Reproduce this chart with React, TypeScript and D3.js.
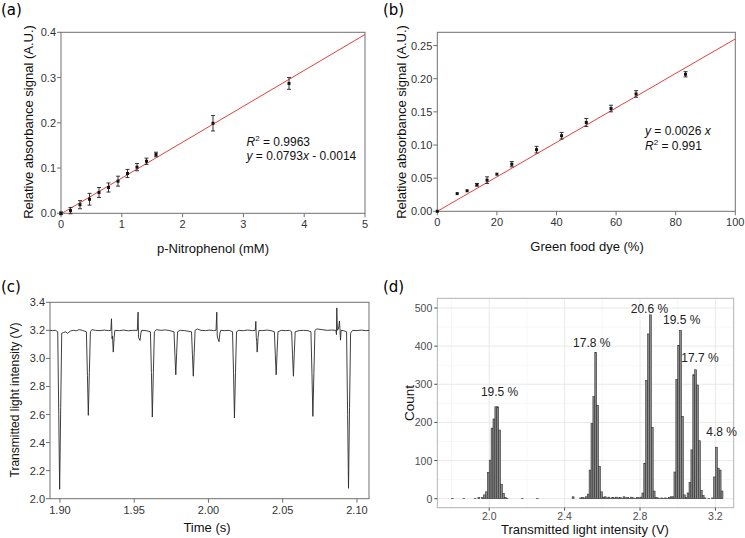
import React from "react";
import * as d3 from "d3";

// ---------- Panel (a): p-Nitrophenol calibration ----------
const aConc = [0, 0.156, 0.3125, 0.469, 0.625, 0.781, 0.9375, 1.094, 1.25, 1.406, 1.5625, 2.5, 3.75];
const aSignal = [0.0, 0.006, 0.019, 0.031, 0.046, 0.057, 0.071, 0.088, 0.102, 0.115, 0.13, 0.199, 0.287];
const aError = [0.003, 0.007, 0.009, 0.013, 0.011, 0.01, 0.011, 0.009, 0.008, 0.007, 0.005, 0.017, 0.013];
const aFit = { slope: 0.0793, intercept: -0.0014 };
const aXTicks = [0, 1, 2, 3, 4, 5];
const aYTicks = [0, 0.1, 0.2, 0.3, 0.4];

// ---------- Panel (b): green food dye calibration ----------
const bDye = [0, 6.67, 10, 13.3, 16.7, 20, 25, 33.3, 41.7, 50, 58.3, 66.7, 83.3];
const bSignal = [0, 0.0267, 0.031, 0.04, 0.047, 0.056, 0.071, 0.093, 0.114, 0.134, 0.155, 0.177, 0.2067];
const bError = [0, 0.001, 0.001, 0.002, 0.005, 0.001, 0.004, 0.005, 0.005, 0.006, 0.005, 0.005, 0.004];
const bFit = { slope: 0.0026, intercept: 0 };
const bXTicks = [0, 20, 40, 60, 80, 100];
const bYTicks = [0, 0.05, 0.1, 0.15, 0.2, 0.25];

// ---------- Panel (c): transmitted light trace [time (s), voltage (V)] ----------
const cTrace: [number, number][] = [
  [1.8933, 3.2], [1.895, 3.198], [1.8968, 3.201], [1.8985, 3.19], [1.8992, 2.6], [1.8998, 2.067],
  [1.9005, 2.65], [1.9012, 3.18], [1.9025, 3.185], [1.904, 3.19], [1.905, 3.178], [1.907, 3.195],
  [1.909, 3.2], [1.911, 3.197], [1.913, 3.205], [1.915, 3.2], [1.9178, 3.19], [1.9185, 2.88],
  [1.9191, 2.594], [1.9198, 2.9], [1.9205, 3.19], [1.9215, 3.205], [1.924, 3.2], [1.927, 3.198],
  [1.93, 3.202], [1.9325, 3.198], [1.9343, 3.2], [1.9347, 3.283], [1.9351, 3.14], [1.9354, 3.16],
  [1.9359, 3.045], [1.9365, 3.15], [1.937, 3.2], [1.94, 3.198], [1.943, 3.202], [1.946, 3.197],
  [1.949, 3.2], [1.9521, 3.2], [1.9526, 3.33], [1.9529, 3.15], [1.9533, 3.14], [1.9539, 3.128],
  [1.9545, 3.18], [1.955, 3.2], [1.958, 3.198], [1.9609, 3.19], [1.9616, 2.9], [1.9622, 2.582],
  [1.9629, 2.9], [1.9636, 3.19], [1.965, 3.205], [1.968, 3.2], [1.971, 3.203], [1.974, 3.198],
  [1.9768, 3.19], [1.9774, 3.03], [1.978, 2.883], [1.9786, 3.04], [1.9792, 3.19], [1.981, 3.2],
  [1.984, 3.198], [1.9886, 3.19], [1.9892, 3.03], [1.9898, 2.873], [1.9904, 3.04], [1.991, 3.2],
  [1.9925, 3.21], [1.995, 3.2], [1.998, 3.198], [2.001, 3.202], [2.0035, 3.198], [2.0051, 3.2],
  [2.0056, 3.33], [2.0059, 3.16], [2.0064, 3.14], [2.0071, 3.119], [2.0077, 3.18], [2.0083, 3.2],
  [2.011, 3.198], [2.014, 3.2], [2.0162, 3.19], [2.0169, 2.89], [2.0175, 2.575], [2.0182, 2.9],
  [2.0189, 3.19], [2.0205, 3.2], [2.0235, 3.198], [2.0265, 3.202], [2.0295, 3.198], [2.0315, 3.2],
  [2.0319, 3.264], [2.0322, 3.15], [2.0325, 3.12], [2.0328, 3.045], [2.0334, 3.15], [2.034, 3.2],
  [2.0365, 3.198], [2.0395, 3.202], [2.042, 3.198], [2.0444, 3.19], [2.045, 3.03], [2.0456, 2.883],
  [2.0462, 3.04], [2.0468, 3.19], [2.049, 3.2], [2.052, 3.198], [2.0545, 3.2], [2.056, 3.19],
  [2.0566, 3.03], [2.0572, 2.873], [2.0578, 3.04], [2.0584, 3.19], [2.061, 3.198], [2.064, 3.2],
  [2.067, 3.198], [2.069, 3.19], [2.0697, 2.89], [2.0703, 2.587], [2.071, 2.9], [2.0717, 3.2],
  [2.073, 3.21], [2.0765, 3.205], [2.08, 3.2], [2.083, 3.202], [2.0858, 3.2], [2.0862, 3.17],
  [2.0864, 3.36], [2.0868, 3.2], [2.0874, 3.21], [2.0878, 3.23], [2.0882, 3.267], [2.0886, 3.2],
  [2.0889, 3.13], [2.0893, 3.2], [2.091, 3.198], [2.093, 3.19], [2.0937, 2.6], [2.0943, 2.074],
  [2.095, 2.65], [2.0957, 3.18], [2.097, 3.2], [2.1, 3.198], [2.103, 3.202], [2.106, 3.198],
  [2.1081, 3.2],
];
const cXTicks = [1.9, 1.95, 2.0, 2.05, 2.1];
const cYTicks = [2.0, 2.2, 2.4, 2.6, 2.8, 3.0, 3.2, 3.4];

// ---------- Panel (d): histogram of transmitted light intensity ----------
const dBinStart = 1.79;
const dBinWidth = 0.01;
const dCounts = [
  0, 1, 0, 0, 0, 0, 0, 1, 0, 0, // 1.79
  0, 0, 0, 1, 0, 3, 0, 3, 10, 18, // 1.89
  69, 101, 185, 209, 241, 241, 180, 38, 14, 3, // 1.99
  1, 0, 0, 0, 0, 0, 0, 0, 1, 0, // 2.09
  0, 0, 0, 0, 0, 0, 1, 0, 0, 0, // 2.19
  0, 0, 0, 0, 0, 0, 0, 0, 0, 0, // 2.29
  0, 0, 0, 0, 0, 5, 0, 0, 0, 2, // 2.39
  3, 2, 5, 12, 75, 197, 268, 383, 245, 85, // 2.49
  18, 4, 5, 2, 4, 1, 3, 2, 4, 2, // 2.59
  3, 1, 5, 2, 3, 1, 4, 2, 1, 3, // 2.69
  2, 4, 15, 93, 310, 432, 482, 187, 20, 3, // 2.79
  2, 1, 2, 1, 2, 1, 3, 5, 5, 70, // 2.89
  313, 402, 441, 216, 10, 3, 15, 43, 128, 325, // 2.99
  338, 298, 152, 22, 8, 2, 0, 1, 0, 2, // 3.09
  57, 135, 80, 75, 20, // 3.19
];
const dLabels = ["19.5 %", "17.8 %", "20.6 %", "19.5 %", "17.7 %", "4.8 %"];
const dLabelX = [2.055, 2.544, 2.85, 3.021, 3.118, 3.233];
const dLabelY = [279, 409, 498, 469, 368, 176];
const dXTicks = [2.0, 2.4, 2.8, 3.2];
const dXMinor = [1.8, 2.2, 2.6, 3.0];
const dYTicks = [0, 100, 200, 300, 400, 500];
const dYMinor = [50, 150, 250, 350, 450];

const SANS = "'Liberation Sans', Arial, sans-serif";
const LABEL_FONT = "'DejaVu Sans', sans-serif";

type Lin = d3.ScaleLinear<number, number>;

function Frame({ x, y, fmtX, fmtY, xTicks, yTicks }: { x: Lin; y: Lin; fmtX: (v: number) => string; fmtY: (v: number) => string; xTicks: number[]; yTicks: number[] }) {
  const [x0, x1] = x.range();
  const [y0, y1] = y.range();
  return (
    <g>
      <rect x={x0} y={y1} width={x1 - x0} height={y0 - y1} fill="none" stroke="#707070" strokeWidth={1} />
      {xTicks.map((t) => (
        <g key={"x" + t}>
          <line x1={x(t)} x2={x(t)} y1={y0} y2={y0 + 4} stroke="#707070" />
          <text x={x(t)} y={y0 + 15} textAnchor="middle" fontSize={11} fill="#333" fontFamily={SANS}>{fmtX(t)}</text>
        </g>
      ))}
      {yTicks.map((t) => (
        <g key={"y" + t}>
          <line x1={x0 - 4} x2={x0} y1={y(t)} y2={y(t)} stroke="#707070" />
          <text x={x0 - 5} y={y(t) + 4} textAnchor="end" fontSize={11} fill="#333" fontFamily={SANS}>{fmtY(t)}</text>
        </g>
      ))}
    </g>
  );
}

function Calib({ xs, ys, es, fit, x, y, clipId }: { xs: number[]; ys: number[]; es: number[]; fit: { slope: number; intercept: number }; x: Lin; y: Lin; clipId: string }) {
  const [x0, x1] = x.range();
  const [y0, y1] = y.range();
  const dx = x.domain();
  return (
    <g>
      <clipPath id={clipId}><rect x={x0} y={y1} width={x1 - x0} height={y0 - y1} /></clipPath>
      <line clipPath={`url(#${clipId})`} x1={x(dx[0])} y1={y(fit.slope * dx[0] + fit.intercept)} x2={x(dx[1])} y2={y(fit.slope * dx[1] + fit.intercept)} stroke="#e2403f" strokeWidth={1} />
      {xs.map((v, i) => (
        <g key={i}>
          {es[i] > 0.0015 && (
            <g stroke="#222" strokeWidth={0.9}>
              <line x1={x(v)} x2={x(v)} y1={y(ys[i] - es[i])} y2={y(ys[i] + es[i])} />
              <line x1={x(v) - 2} x2={x(v) + 2} y1={y(ys[i] - es[i])} y2={y(ys[i] - es[i])} />
              <line x1={x(v) - 2} x2={x(v) + 2} y1={y(ys[i] + es[i])} y2={y(ys[i] + es[i])} />
            </g>
          )}
          <rect x={x(v) - 1.5} y={y(ys[i]) - 1.5} width={3} height={3} fill="#111" />
        </g>
      ))}
    </g>
  );
}

export default function App() {
  // (a)
  const ax = d3.scaleLinear().domain([0, 5]).range([61, 365]);
  const ay = d3.scaleLinear().domain([0, 0.4]).range([213.3, 32.3]);
  // (b)
  const bx = d3.scaleLinear().domain([0, 100]).range([437.3, 735.3]);
  const by = d3.scaleLinear().domain([0, 0.27]).range([211.3, 32.3]);
  // (c)
  const cx = d3.scaleLinear().domain([1.8933, 2.1081]).range([50, 369]);
  const cy = d3.scaleLinear().domain([2.0, 3.4]).range([498.7, 302.3]);
  const cLine = d3.line<[number, number]>().x((d) => cx(d[0])).y((d) => cy(d[1]));
  // (d)
  const dx = d3.scaleLinear().domain([1.7245, 3.297]).range([437.3, 733.7]);
  const dy = d3.scaleLinear().domain([-23.6, 525.4]).range([507.7, 298.3]);
  const [dx0, dx1] = dx.range();
  const [dy0, dy1] = dy.range();

  return (
    <svg width={745} height={538} style={{ display: "block", position: "absolute", left: 0, top: 0 }} fontFamily={SANS}>
      <rect width={745} height={538} fill="#fff" />
      {/* Panel labels */}
      <text x={1} y={15} fontSize={15} fontFamily={LABEL_FONT}>(a)</text>
      <text x={383} y={15} fontSize={15} fontFamily={LABEL_FONT}>(b)</text>
      <text x={1} y={292} fontSize={15} fontFamily={LABEL_FONT}>(c)</text>
      <text x={383} y={292} fontSize={15} fontFamily={LABEL_FONT}>(d)</text>

      {/* (a) */}
      <Frame x={ax} y={ay} fmtX={d3.format("d")} fmtY={d3.format(".1f")} xTicks={aXTicks} yTicks={aYTicks} />
      <Calib xs={aConc} ys={aSignal} es={aError} fit={aFit} x={ax} y={ay} clipId="clipA" />
      <text transform="translate(33,122) rotate(-90)" textAnchor="middle" fontSize={13} fill="#111">Relative absorbance signal (A.U.)</text>
      <text x={213} y={253} textAnchor="middle" fontSize={13} fill="#111">p-Nitrophenol (mM)</text>
      <text x={246.5} y={146} fontSize={12} fill="#111"><tspan fontStyle="italic">R</tspan><tspan dy={-5} fontSize={8}>2</tspan><tspan dy={5}> = 0.9963</tspan></text>
      <text x={246.5} y={160} fontSize={12} fill="#111"><tspan fontStyle="italic">y</tspan> = 0.0793<tspan fontStyle="italic">x</tspan> - 0.0014</text>

      {/* (b) */}
      <Frame x={bx} y={by} fmtX={d3.format("d")} fmtY={d3.format(".2f")} xTicks={bXTicks} yTicks={bYTicks} />
      <Calib xs={bDye} ys={bSignal} es={bError} fit={bFit} x={bx} y={by} clipId="clipB" />
      <text transform="translate(406,122) rotate(-90)" textAnchor="middle" fontSize={13} fill="#111">Relative absorbance signal (A.U.)</text>
      <text x={587} y={251} textAnchor="middle" fontSize={13} fill="#111">Green food dye (%)</text>
      <text x={645} y={135} fontSize={12} fill="#111"><tspan fontStyle="italic">y</tspan> = 0.0026 <tspan fontStyle="italic">x</tspan></text>
      <text x={645} y={150} fontSize={12} fill="#111"><tspan fontStyle="italic">R</tspan><tspan dy={-5} fontSize={8}>2</tspan><tspan dy={5}> = 0.991</tspan></text>

      {/* (c) */}
      <Frame x={cx} y={cy} fmtX={d3.format(".2f")} fmtY={d3.format(".1f")} xTicks={cXTicks} yTicks={cYTicks} />
      <path d={cLine(cTrace) ?? ""} fill="none" stroke="#2a2a2a" strokeWidth={0.9} />
      <text transform="translate(19,400) rotate(-90)" textAnchor="middle" fontSize={12} fill="#111">Transmitted light intensity (V)</text>
      <text x={207} y={532} textAnchor="middle" fontSize={13} fill="#111">Time (s)</text>

      {/* (d) */}
      <g>
        {dYMinor.map((t) => <line key={"ym" + t} x1={dx0} x2={dx1} y1={dy(t)} y2={dy(t)} stroke="#f2f2f2" strokeWidth={0.6} />)}
        {dXMinor.map((t) => <line key={"xm" + t} x1={dx(t)} x2={dx(t)} y1={dy0} y2={dy1} stroke="#f2f2f2" strokeWidth={0.6} />)}
        {dYTicks.map((t) => <line key={"yg" + t} x1={dx0} x2={dx1} y1={dy(t)} y2={dy(t)} stroke="#e6e6e6" strokeWidth={0.9} />)}
        {dXTicks.map((t) => <line key={"xg" + t} x1={dx(t)} x2={dx(t)} y1={dy0} y2={dy1} stroke="#e6e6e6" strokeWidth={0.9} />)}
        {dCounts.map((c, i) => {
          const l = dBinStart + i * dBinWidth;
          return (
            <rect key={"b" + i} x={dx(l)} y={dy(c)} width={dx(l + dBinWidth) - dx(l)} height={dy(0) - dy(c)} fill="#8a8a8a" stroke="#333" strokeWidth={0.6} />
          );
        })}
        <rect x={dx0} y={dy1} width={dx1 - dx0} height={dy0 - dy1} fill="none" stroke="#b3b3b3" strokeWidth={1} />
        {dXTicks.map((t) => (
          <g key={"dxt" + t}>
            <line x1={dx(t)} x2={dx(t)} y1={dy0} y2={dy0 + 3} stroke="#4d4d4d" />
            <text x={dx(t)} y={dy0 + 12} textAnchor="middle" fontSize={10.5} fill="#4d4d4d">{d3.format(".1f")(t)}</text>
          </g>
        ))}
        {dYTicks.map((t) => (
          <g key={"dyt" + t}>
            <line x1={dx0 - 3} x2={dx0} y1={dy(t)} y2={dy(t)} stroke="#4d4d4d" />
            <text x={dx0 - 5} y={dy(t) + 4} textAnchor="end" fontSize={10.5} fill="#4d4d4d">{t}</text>
          </g>
        ))}
        {dLabels.map((s, i) => (
          <text key={"dl" + i} x={dx(dLabelX[i])} y={dy(dLabelY[i]) + 4} textAnchor="middle" fontSize={12} fill="#222">{s}</text>
        ))}
        <text transform="translate(413.5,403) rotate(-90)" textAnchor="middle" fontSize={13.5} fill="#111">Count</text>
        <text x={585} y={533.5} textAnchor="middle" fontSize={13} fill="#111">Transmitted light intensity (V)</text>
      </g>
    </svg>
  );
}
